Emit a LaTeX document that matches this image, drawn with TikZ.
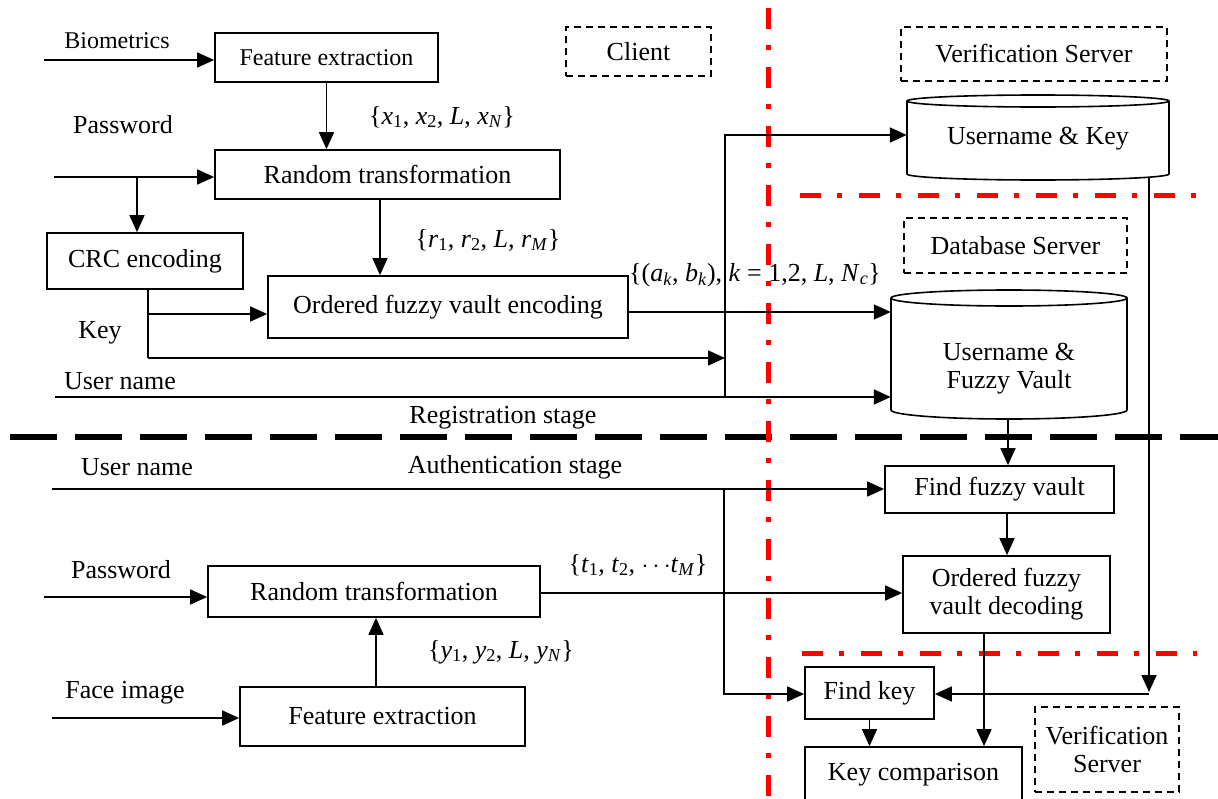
\documentclass[tikz,border=0pt]{standalone}
\usepackage{fontspec}
\setmainfont{Liberation Serif}
\usetikzlibrary{arrows.meta}
\newcommand{\vsub}[2]{\textit{#1}\textsubscript{#2}}
\begin{document}
\begin{tikzpicture}[x=1pt,y=-1pt,
  every node/.style={font=\fontsize{26}{28}\selectfont, inner sep=0pt},
  box/.style={draw, line width=1.7pt},
  dbox/.style={draw, line width=1.3pt, dash pattern=on 7pt off 5pt},
  ln/.style={line width=1.6pt},
  arr/.style={line width=1.6pt, -{Triangle[length=17pt,width=15pt]}},
  reddd/.style={draw=red, line width=5pt, dash pattern=on 21pt off 16pt on 5pt off 17pt},
  blkdash/.style={line width=6pt, dash pattern=on 47pt off 18pt},
  small/.style={font=\fontsize{24}{26}\selectfont},
  mlbl/.style={font=\fontsize{26}{30}\selectfont}]
\useasboundingbox[fill=white] (0,0) rectangle (1218,798);

% ---------- separators ----------
\draw[blkdash] (10,437) -- (1218,437);
\draw[reddd] (768,8) -- (768,798);
\draw[reddd] (800,195) -- (1197,195);
\draw[reddd] (802,653) -- (1197,653);

% ---------- region labels ----------
\node[dbox, minimum width=145pt, minimum height=49pt] (client) at (638.5,51.5) {Client};
\node[dbox, minimum width=266pt, minimum height=54pt] (vs1) at (1034,54) {Verification Server};
\node[dbox, minimum width=223pt, minimum height=55pt] (dbs) at (1015.5,245.5) {Database Server};
\node[dbox, minimum width=144pt, minimum height=85pt, align=center] (vs2) at (1107,749.5) {Verification\\Server};

% ---------- registration boxes ----------
\node[box, small, minimum width=223pt, minimum height=49pt] (fe1) at (326.5,57.5) {Feature extraction};
\node[box, minimum width=345pt, minimum height=49pt] (rt1) at (387.5,174.5) {Random transformation};
\node[box, minimum width=196pt, minimum height=56pt] (crc) at (145,261) {CRC encoding};
\node[box, minimum width=360pt, minimum height=62pt] (oe) at (448,307) {Ordered fuzzy vault encoding};

% cylinders
\node[minimum width=262pt, minimum height=82pt] (uk) at (1038,137) {};
\node (uktext) at (1038,139) {Username \& Key};
\draw[ln] (1038,101) ellipse[x radius=131pt, y radius=6pt];
\draw[ln] (907,101) -- (907,174) arc[start angle=180, end angle=360, x radius=131pt, y radius=6pt] -- (1169,101);

\node[minimum width=236pt, minimum height=121pt] (fv) at (1009,358.5) {};
\node[align=center] (fvtext) at (1009,369) {Username \&\\Fuzzy Vault};
\draw[ln] (1009,298) ellipse[x radius=118pt, y radius=8pt];
\draw[ln] (891,298) -- (891,410) arc[start angle=180, end angle=360, x radius=118pt, y radius=9pt] -- (1127,298);

% ---------- authentication boxes ----------
\node[box, minimum width=229pt, minimum height=47pt] (ffv) at (999.5,489.5) {Find fuzzy vault};
\node[box, minimum width=207pt, minimum height=77pt, align=center] (od) at (1006.5,594.5) {Ordered fuzzy\\vault decoding};
\node[box, minimum width=332pt, minimum height=51pt] (rt2) at (374,591.5) {Random transformation};
\node[box, minimum width=285pt, minimum height=59pt] (fe2) at (382.5,716.5) {Feature extraction};
\node[box, minimum width=129pt, minimum height=52pt] (fk) at (869.5,693) {Find key};
\node[box, minimum width=217pt, minimum height=56pt] (kc) at (913.5,775) {};
\node (kctext) at (913.5,775) {Key comparison};

% ---------- text labels ----------
\node[small] (tbio) at (117,41) {Biometrics};
\node (tpw1) at (123,125) {Password};
\node[mlbl] (tx) at (442,117) {\{\vsub{x}{1}, \vsub{x}{2}, \textit{L}, \vsub{x}{\textit{N}}\}};
\node[mlbl] (tr) at (488,240) {\{\vsub{r}{1}, \vsub{r}{2}, \textit{L}, \vsub{r}{\textit{M}}\}};
\node (tkey) at (100,333) {Key};
\node (tun1) at (120,381) {User name};
\node[mlbl] (tab) at (755,275) {\{(\vsub{a}{\textit{k}}, \vsub{b}{\textit{k}}), \textit{k} = 1,2, \textit{L}, \vsub{N}{\textit{c}}\}};
\node (treg) at (503,418) {Registration stage};
\node (tun2) at (137,467) {User name};
\node (tauth) at (515,467) {Authentication stage};
\node (tpw2) at (121,570) {Password};
\node[mlbl] (tt) at (638,565) {\{\vsub{t}{1}, \vsub{t}{2}, $\cdots$\vsub{t}{\textit{M}}\}};
\node[mlbl] (ty) at (501,652) {\{\vsub{y}{1}, \vsub{y}{2}, \textit{L}, \vsub{y}{\textit{N}}\}};
\node (tface) at (125,693) {Face image};

% ---------- junction coordinates ----------
\coordinate (bio0) at (44,60);
\coordinate (pw0) at (54,177);
\coordinate (pwj) at (137,177);
\coordinate (keyj) at (148,314);
\coordinate (keyc) at (148,358);
\coordinate (keyend) at (725,358);
\coordinate (un0) at (55,397);
\coordinate (unj) at (725,397);
\coordinate (unk) at (725,135);
\coordinate (un20) at (52,489);
\coordinate (un2j) at (724,489);
\coordinate (un2k) at (724,694);
\coordinate (pw20) at (44,597);
\coordinate (face0) at (52,718);
\coordinate (vk1) at (1149,177);
\coordinate (vk2) at (1149,692);
\coordinate (vk3) at (1149,694);

% ---------- registration connectors ----------
\draw[arr] (bio0) -- (fe1.west |- bio0);
\draw[arr] (fe1.south) -- (fe1.south |- rt1.north);
\draw[arr] (pw0) -- (rt1.west |- pw0);
\draw[arr] (pwj) -- (pwj |- crc.north);
\draw[arr] (rt1.south -| 380,0) -- (oe.north -| 380,0);
\draw[ln] (crc.south -| keyc) -- (keyc);
\draw[arr] (keyc) -- (keyend);
\draw[arr] (keyj) -- (oe.west |- keyj);
\draw[arr] (oe.east |- 0,312) -- (fv.west |- 0,312);
\draw[arr] (un0) -- (fv.west |- un0);
\draw[arr] (unj) -- (unk) -- (uk.west |- unk);

% ---------- authentication connectors ----------
\draw[arr] (fv.south -| 1008,0) -- (ffv.north -| 1008,0);
\draw[arr] (un20) -- (ffv.west |- un20);
\draw[arr] (un2j) -- (un2k) -- (fk.west |- un2k);
\draw[arr] (ffv.south -| 1007,0) -- (od.north -| 1007,0);
\draw[arr] (rt2.east |- 0,593) -- (od.west |- 0,593);
\draw[arr] (fe2.north -| 376,0) -- (rt2.south -| 376,0);
\draw[arr] (face0) -- (fe2.west |- face0);
\draw[arr] (pw20) -- (rt2.west |- pw20);
\draw[arr] (od.south -| 984,0) -- (kc.north -| 984,0);
\draw[arr] (fk.south) -- (fk.south |- kc.north);
\draw[arr] (vk1) -- (vk2);
\draw[arr] (vk3) -- (fk.east |- vk3);
\end{tikzpicture}
\end{document}
